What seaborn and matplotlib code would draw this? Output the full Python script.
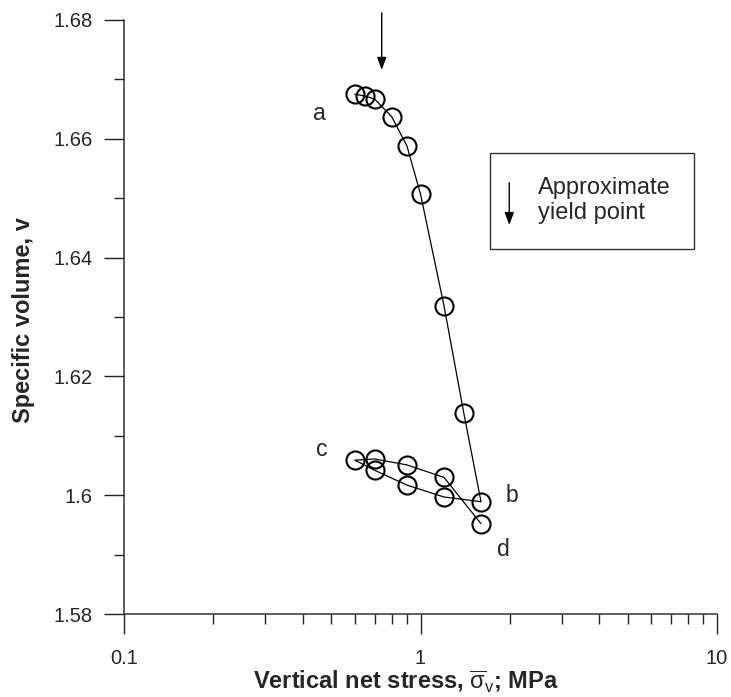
import numpy as np
import pandas as pd
import seaborn as sns
import matplotlib
matplotlib.use("Agg")
import matplotlib.pyplot as plt
from matplotlib.ticker import FixedLocator, MultipleLocator, FuncFormatter, LogLocator, NullFormatter
from matplotlib.patches import Rectangle

# Loading path a -> b
load_stress = [0.6, 0.65, 0.7, 0.8, 0.9, 1.0, 1.2, 1.4, 1.6]
load_v = [1.6675, 1.6672, 1.6667, 1.6637, 1.6588, 1.6507, 1.6319, 1.6138, 1.5989]

# Unloading path b -> c
unload_stress = [1.6, 1.2, 0.9, 0.7, 0.6]
unload_v = [1.5989, 1.5997, 1.6017, 1.6042, 1.6059]

# Reloading path c -> d
reload_stress = [0.6, 0.7, 0.9, 1.2, 1.6]
reload_v = [1.6059, 1.6061, 1.6051, 1.6030, 1.5952]

yield_stress = 0.74

x_ticks = [0.1, 1, 10]
x_tick_labels = ["0.1", "1", "10"]

sns.set_style("white")
plt.rcParams["font.family"] = ["Liberation Sans", "DejaVu Sans"]
plt.rcParams["mathtext.fontset"] = "custom"
plt.rcParams["mathtext.rm"] = "Liberation Sans"
plt.rcParams["mathtext.it"] = "Liberation Sans"
plt.rcParams["mathtext.bf"] = "Liberation Sans:bold"

path = pd.DataFrame({
    "stress": load_stress + unload_stress[1:] + reload_stress[1:],
    "v": load_v + unload_v[1:] + reload_v[1:],
})

fig = plt.figure(figsize=(7.31, 6.97), dpi=100)
ax = fig.add_axes([124 / 731, 1 - 614 / 697, 593 / 731, 594 / 697])

sns.lineplot(
    data=path, x="stress", y="v", sort=False, estimator=None, ax=ax,
    color="black", linewidth=0.9, marker="o", markersize=13,
    markerfacecolor="none", markeredgecolor="black", markeredgewidth=1.5,
    clip_on=False,
)

ax.set_xscale("log")
ax.set_xlim(0.1, 10)
ax.set_ylim(1.58, 1.68)

ax.xaxis.set_major_locator(FixedLocator(x_ticks))
ax.xaxis.set_major_formatter(FuncFormatter(lambda v, p: x_tick_labels[x_ticks.index(v)] if v in x_ticks else ""))
ax.xaxis.set_minor_locator(LogLocator(base=10, subs=np.arange(2, 10)))
ax.xaxis.set_minor_formatter(NullFormatter())
ax.yaxis.set_major_locator(MultipleLocator(0.02))
ax.yaxis.set_minor_locator(MultipleLocator(0.01))
ax.yaxis.set_major_formatter(FuncFormatter(lambda v, p: f"{v:.2f}".rstrip("0")))

for s in ["top", "right"]:
    ax.spines[s].set_visible(False)
for s in ["left", "bottom"]:
    ax.spines[s].set_color("#333333")
    ax.spines[s].set_linewidth(1.1)

ax.tick_params(which="major", direction="out", length=14.5, width=1.0, color="#222222",
               labelsize=14.5, pad=8, left=True, bottom=True)
ax.tick_params(which="minor", direction="out", length=7.2, width=1.0, color="#222222",
               left=True, bottom=True)
ax.tick_params(axis="x", which="major", pad=11)

ax.set_xlabel(r"Vertical net stress, $\overline{\sigma}_{\mathrm{v}}$; MPa",
              fontsize=17, fontweight="bold")
ax.set_ylabel("Specific volume, v", fontsize=17, fontweight="bold")
ax.xaxis.set_label_coords(0.476, -0.092)
ax.yaxis.set_label_coords(-0.15, 0.495)

# Stage labels
ax.text(0.456, 1.6643, "a", fontsize=16.5, ha="center", va="center")
ax.text(2.03, 1.6000, "b", fontsize=16.5, ha="center", va="center")
ax.text(0.464, 1.6077, "c", fontsize=16.5, ha="center", va="center")
ax.text(1.91, 1.5908, "d", fontsize=16.5, ha="center", va="center")

# Yield point arrow
ax.annotate("", xy=(yield_stress, 1.6716), xytext=(yield_stress, 1.6812),
            xycoords="data", textcoords="data", annotation_clip=False,
            arrowprops=dict(arrowstyle="-|>,head_length=0.75,head_width=0.28",
                            color="black", lw=1.0, shrinkA=0, shrinkB=0))

# Key box
ax.add_patch(Rectangle((0.618, 0.614), 0.343, 0.1616, transform=ax.transAxes,
                       facecolor="white", edgecolor="#333333", linewidth=1.0))
ax.annotate("", xy=(0.6497, 0.6549), xytext=(0.6497, 0.726),
            xycoords="axes fraction", textcoords="axes fraction",
            arrowprops=dict(arrowstyle="-|>,head_length=0.75,head_width=0.28",
                            color="black", lw=1.0, shrinkA=0, shrinkB=0))
ax.text(0.6987, 0.6961, "Approximate\nyield point", transform=ax.transAxes,
        fontsize=17, ha="left", va="center", linespacing=1.2)

fig.savefig("out.png", dpi=100)
